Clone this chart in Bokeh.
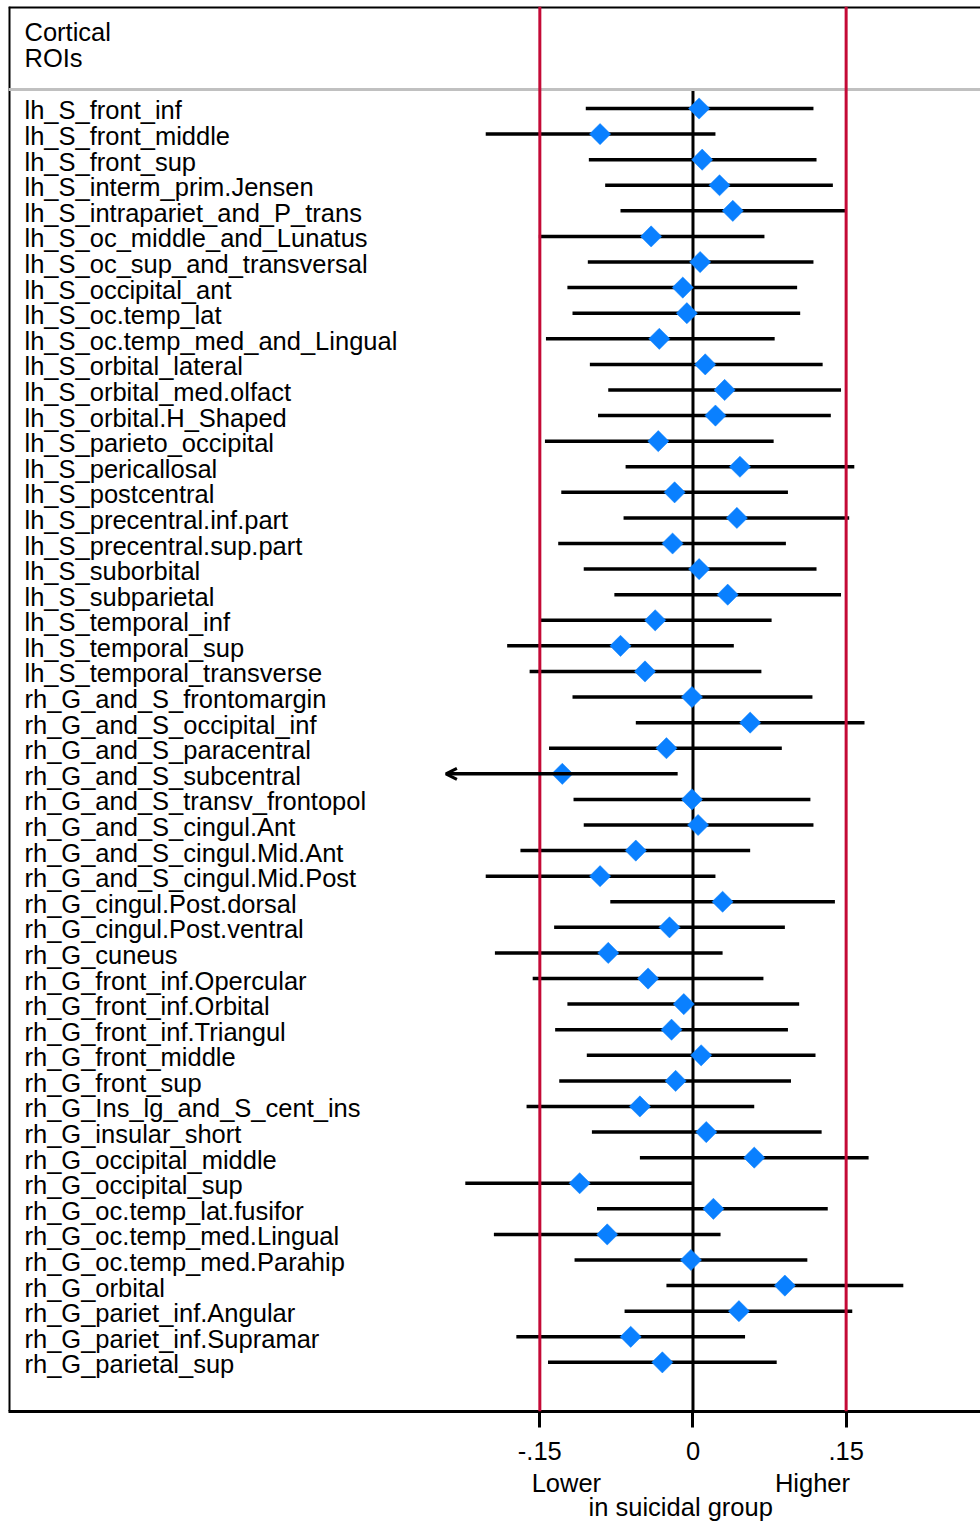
import math
from bokeh.plotting import figure
from bokeh.models import (Range1d, Span, LinearAxis, FixedTicker, Arrow,
                          OpenHead, ColumnDataSource)
from bokeh.core.properties import value
from bokeh.embed import file_html
from bokeh.resources import INLINE

# ---------------- data ----------------
rois = [
    "lh_S_front_inf", "lh_S_front_middle", "lh_S_front_sup", "lh_S_interm_prim.Jensen",
    "lh_S_intrapariet_and_P_trans", "lh_S_oc_middle_and_Lunatus", "lh_S_oc_sup_and_transversal",
    "lh_S_occipital_ant", "lh_S_oc.temp_lat", "lh_S_oc.temp_med_and_Lingual",
    "lh_S_orbital_lateral", "lh_S_orbital_med.olfact", "lh_S_orbital.H_Shaped",
    "lh_S_parieto_occipital", "lh_S_pericallosal", "lh_S_postcentral",
    "lh_S_precentral.inf.part", "lh_S_precentral.sup.part", "lh_S_suborbital",
    "lh_S_subparietal", "lh_S_temporal_inf", "lh_S_temporal_sup", "lh_S_temporal_transverse",
    "rh_G_and_S_frontomargin", "rh_G_and_S_occipital_inf", "rh_G_and_S_paracentral",
    "rh_G_and_S_subcentral", "rh_G_and_S_transv_frontopol", "rh_G_and_S_cingul.Ant",
    "rh_G_and_S_cingul.Mid.Ant", "rh_G_and_S_cingul.Mid.Post", "rh_G_cingul.Post.dorsal",
    "rh_G_cingul.Post.ventral", "rh_G_cuneus", "rh_G_front_inf.Opercular",
    "rh_G_front_inf.Orbital", "rh_G_front_inf.Triangul", "rh_G_front_middle",
    "rh_G_front_sup", "rh_G_Ins_lg_and_S_cent_ins", "rh_G_insular_short",
    "rh_G_occipital_middle", "rh_G_occipital_sup", "rh_G_oc.temp_lat.fusifor",
    "rh_G_oc.temp_med.Lingual", "rh_G_oc.temp_med.Parahip", "rh_G_orbital",
    "rh_G_pariet_inf.Angular", "rh_G_pariet_inf.Supramar", "rh_G_parietal_sup",
]

est = [0.006, -0.091, 0.009, 0.026, 0.039, -0.041, 0.007, -0.010, -0.006, -0.033,
       0.012, 0.031, 0.022, -0.034, 0.046, -0.018, 0.043, -0.020, 0.006, 0.034,
       -0.037, -0.071, -0.047, -0.001, 0.056, -0.026, -0.128, -0.001, 0.005, -0.056,
       -0.091, 0.029, -0.023, -0.083, -0.044, -0.009, -0.021, 0.008, -0.017, -0.052,
       0.013, 0.060, -0.111, 0.020, -0.084, -0.002, 0.090, 0.045, -0.061, -0.030]

low = [-0.105, -0.203, -0.102, -0.086, -0.071, -0.151, -0.103, -0.123, -0.118, -0.144,
       -0.101, -0.083, -0.093, -0.145, -0.066, -0.129, -0.068, -0.132, -0.107, -0.077,
       -0.149, -0.182, -0.160, -0.118, -0.056, -0.141, -0.260, -0.117, -0.107, -0.169,
       -0.203, -0.081, -0.136, -0.194, -0.157, -0.123, -0.135, -0.104, -0.131, -0.163,
       -0.099, -0.052, -0.223, -0.094, -0.195, -0.116, -0.026, -0.067, -0.173, -0.142]

high = [0.118, 0.022, 0.121, 0.137, 0.150, 0.070, 0.118, 0.102, 0.105, 0.080,
        0.127, 0.145, 0.135, 0.079, 0.158, 0.093, 0.153, 0.091, 0.121, 0.145,
        0.077, 0.040, 0.067, 0.117, 0.168, 0.087, -0.015, 0.115, 0.118, 0.056,
        0.022, 0.139, 0.090, 0.029, 0.069, 0.104, 0.093, 0.120, 0.096, 0.060,
        0.126, 0.172, 0.000, 0.132, 0.027, 0.112, 0.206, 0.156, 0.051, 0.082]

tick_values = [-0.15, 0.0, 0.15]
tick_labels = ["-.15", "0", ".15"]
direction_labels = {-0.124: "Lower", 0.117: "Higher"}
group_label = {-0.012: "in suicidal group"}
header_lines = ["Cortical", "ROIs"]

# ---------------- layout / style ----------------
FONT = "Liberation Sans"
FS = "25.5px"
BLUE = "#0a80ff"
RED = "#c40a36"
CI_MIN = -0.242          # left clipping limit of the CI scale

X0, X1 = -0.6704, 0.2816
Y_BOTTOM, Y_TOP = 51.92, -2.986

n = len(rois)
rows = list(range(1, n + 1))

p = figure(width=980, height=1523, output_backend="svg", toolbar_location=None,
           x_range=Range1d(X0, X1), y_range=Range1d(Y_BOTTOM, Y_TOP),
           x_axis_location=None, y_axis_location=None,
           min_border_left=8, min_border_right=0, min_border_top=6,
           min_border_bottom=112)
p.grid.visible = False
p.outline_line_color = None
p.background_fill_color = "white"
p.border_fill_color = "white"

# frame borders
p.add_layout(Span(location=X0, dimension="height", line_color="black", line_width=4))
p.add_layout(Span(location=Y_TOP, dimension="width", line_color="black", line_width=4))
# header separator
sep_y = 0.2575
p.add_layout(Span(location=sep_y, dimension="width", line_color="#c0c0c0", line_width=3))

# reference lines at +/- .15
for tv in (-0.15, 0.15):
    p.add_layout(Span(location=tv, dimension="height", line_color=RED, line_width=3))

# zero line
p.segment(x0=[0], x1=[0], y0=[sep_y], y1=[Y_BOTTOM], line_color="black", line_width=3)

# CIs
lo_plot = [max(l, CI_MIN) for l in low]
clipped = [l < CI_MIN for l in low]
src_full = ColumnDataSource(dict(
    y=[r for r, c in zip(rows, clipped) if not c],
    lo=[l for l, c in zip(lo_plot, clipped) if not c],
    hi=[h for h, c in zip(high, clipped) if not c]))
p.segment(x0="lo", x1="hi", y0="y", y1="y", source=src_full,
          line_color="black", line_width=3.5)
src_clip = ColumnDataSource(dict(
    y=[r for r, c in zip(rows, clipped) if c],
    lo=[l for l, c in zip(lo_plot, clipped) if c],
    hi=[h for h, c in zip(high, clipped) if c]))
p.add_layout(Arrow(end=OpenHead(size=11, line_width=3, line_color="black"),
                   x_start="hi", y_start="y", x_end="lo", y_end="y",
                   source=src_clip, line_color="black", line_width=3.5))

# point estimates (diamonds)
p.scatter(x=est, y=rows, marker="square", angle=math.pi / 4, size=15,
          fill_color=BLUE, line_color=BLUE, line_width=0.5)

# row labels
p.text(x=[X0] * n, y=rows, text=rois, x_offset=16, y_offset=2,
       text_baseline="middle", text_align="left",
       text_font=value(FONT), text_font_size=FS, text_color="black")

# header
p.text(x=[X0, X0], y=[-1.97, -0.97], text=header_lines, x_offset=16,
       text_baseline="middle", text_align="left",
       text_font=value(FONT), text_font_size=FS, text_color="black")


def text_axis(ticks, overrides, standoff, tick_out=0, line=False):
    a = LinearAxis(ticker=FixedTicker(ticks=ticks), major_label_overrides=overrides)
    a.axis_line_width = 3
    a.axis_line_color = "black" if line else None
    a.major_tick_out = tick_out
    a.major_tick_in = 0
    a.major_tick_line_width = 3
    a.major_tick_line_color = "black" if tick_out else None
    a.minor_tick_line_color = None
    a.major_label_text_font = FONT
    a.major_label_text_font_size = FS
    a.major_label_text_color = "black"
    a.major_label_standoff = standoff
    return a


# bottom axis with tick labels, then the direction and group captions
p.add_layout(text_axis(tick_values, {v: t for v, t in zip(tick_values, tick_labels)},
                       14, tick_out=16, line=True), "below")
p.add_layout(text_axis(list(direction_labels), direction_labels, 6), "below")
p.add_layout(text_axis(list(group_label), group_label, -7), "below")

open("out.html", "w").write(file_html(p, INLINE))
